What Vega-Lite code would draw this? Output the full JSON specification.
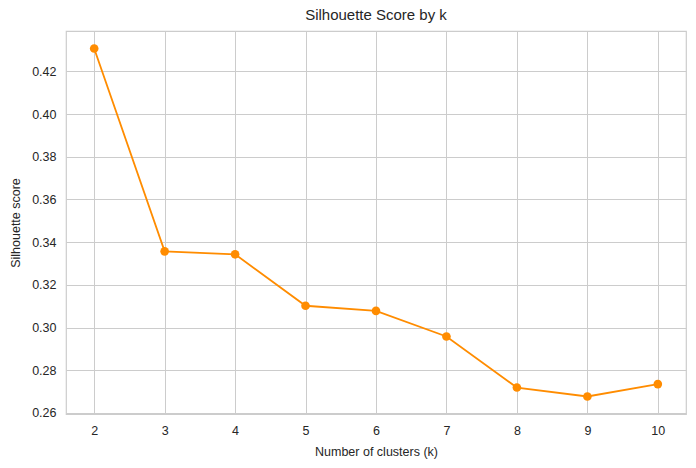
{
  "$schema": "https://vega.github.io/schema/vega-lite/v6.json",
  "autosize": "none",
  "width": 620,
  "height": 383,
  "padding": {"left": 66, "top": 31, "right": 10, "bottom": 54},
  "background": "white",
  "title": {"text": "Silhouette Score by k", "font": "Liberation Sans", "fontSize": 15, "fontWeight": "normal", "color": "#262626", "offset": 8},
  "config": {
    "view": {"stroke": "#cccccc", "strokeWidth": 1.2},
    "axis": {
      "labelFont": "Liberation Sans", "labelFontSize": 12.5, "labelColor": "#262626",
      "titleFont": "Liberation Sans", "titleFontSize": 12.5, "titleFontWeight": "normal", "titleColor": "#262626",
      "gridColor": "#cccccc", "gridWidth": 1, "domain": false, "ticks": false
    }
  },
  "data": {"values": [
    {"k": 2, "score": 0.4307},
    {"k": 3, "score": 0.3357},
    {"k": 4, "score": 0.3343},
    {"k": 5, "score": 0.3102},
    {"k": 6, "score": 0.3078},
    {"k": 7, "score": 0.2958},
    {"k": 8, "score": 0.2719},
    {"k": 9, "score": 0.2677},
    {"k": 10, "score": 0.2735}
  ]},
  "encoding": {
    "x": {"field": "k", "type": "quantitative",
      "scale": {"domain": [1.6, 10.4], "nice": false, "zero": false},
      "axis": {"title": "Number of clusters (k)", "values": [2,3,4,5,6,7,8,9,10], "labelPadding": 10, "titlePadding": 9, "labelFlush": false}},
    "y": {"field": "score", "type": "quantitative",
      "scale": {"domain": [0.2595, 0.4389], "nice": false, "zero": false},
      "axis": {"title": "Silhouette score", "values": [0.26,0.28,0.30,0.32,0.34,0.36,0.38,0.40,0.42], "format": ".2f", "labelPadding": 10, "titlePadding": 9, "labelFlush": false}}
  },
  "layer": [
    {"mark": {"type": "line", "color": "#ff8c00", "strokeWidth": 1.8}},
    {"mark": {"type": "point", "filled": true, "color": "#ff8c00", "size": 75, "opacity": 1}}
  ]
}
